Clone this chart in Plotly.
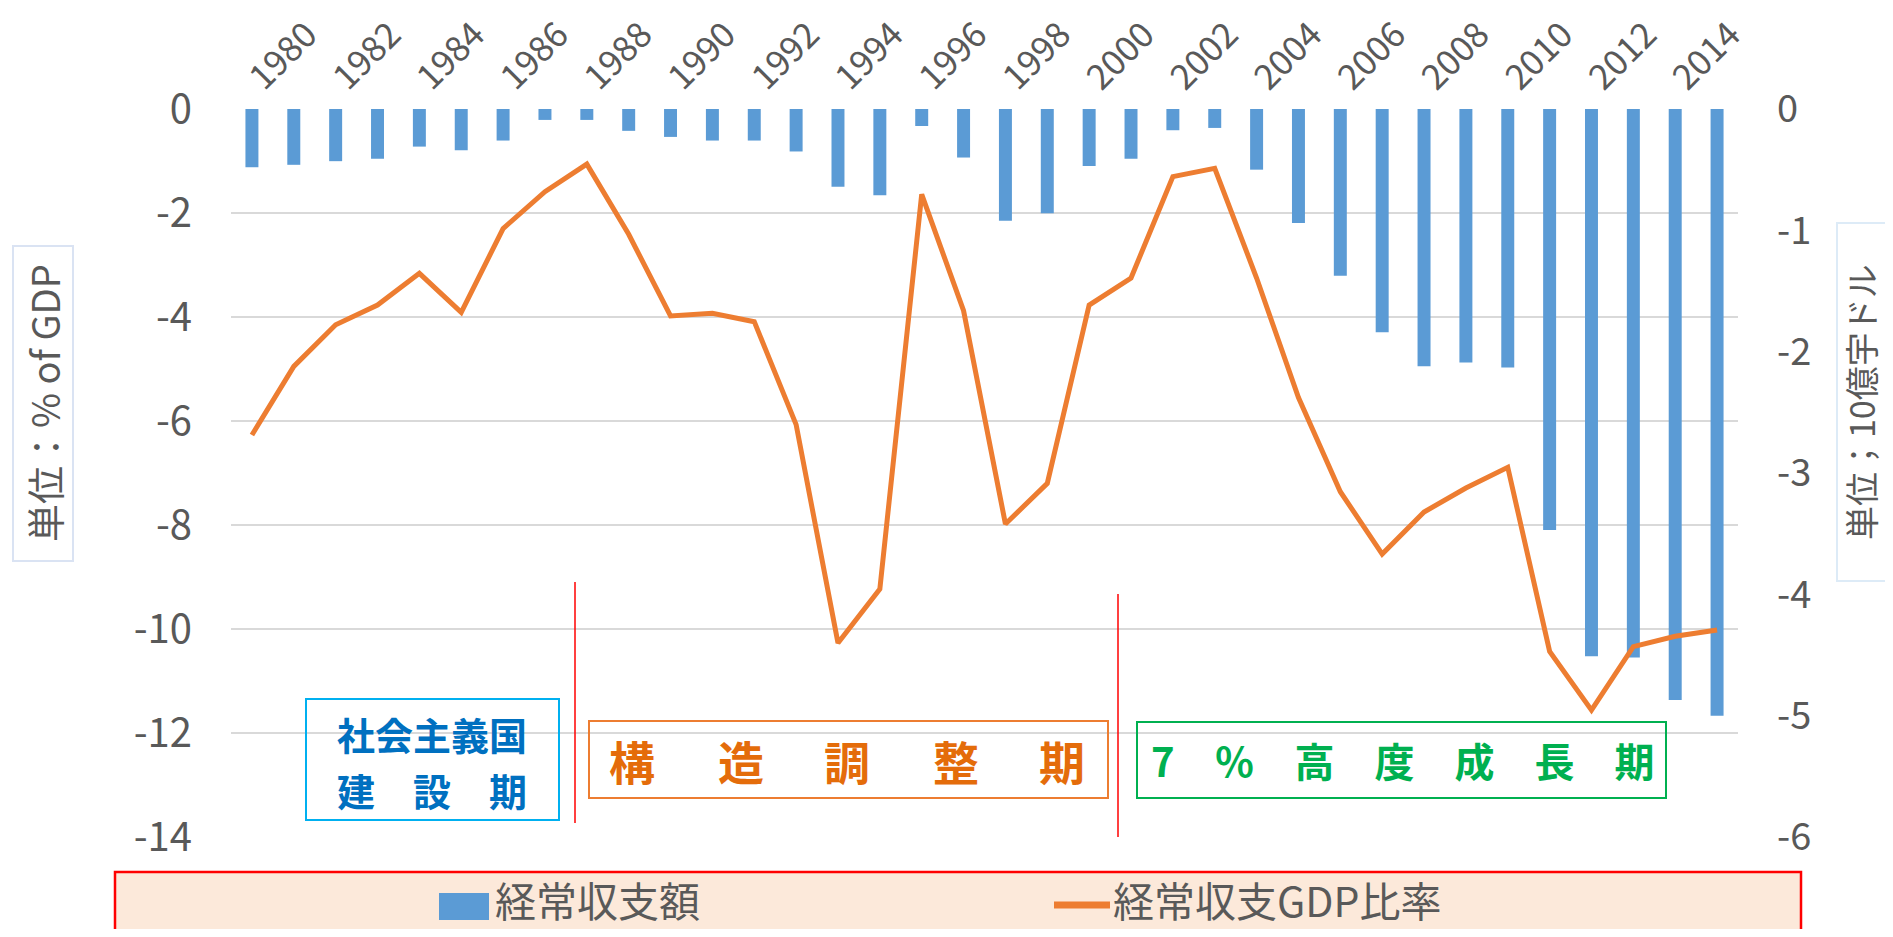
import plotly.graph_objects as go

# ---------------- data ----------------
years = ["1980", "1981", "1982", "1983", "1984", "1985", "1986", "1987", "1988", "1989",
         "1990", "1991", "1992", "1993", "1994", "1995", "1996", "1997", "1998", "1999",
         "2000", "2001", "2002", "2003", "2004", "2005", "2006", "2007", "2008", "2009",
         "2010", "2011", "2012", "2013", "2014", "2015"]
tick_years = ["1980", "1982", "1984", "1986", "1988", "1990", "1992", "1994", "1996",
              "1998", "2000", "2002", "2004", "2006", "2008", "2010", "2012", "2014"]

# current account balance, billion USD (right axis)
balance_bn = [-0.48, -0.46, -0.43, -0.41, -0.31, -0.34, -0.26, -0.09, -0.09, -0.18,
              -0.23, -0.26, -0.26, -0.35, -0.64, -0.71, -0.14, -0.40, -0.92, -0.86,
              -0.47, -0.41, -0.175, -0.156, -0.50, -0.94, -1.375, -1.84, -2.12, -2.09,
              -2.13, -3.47, -4.51, -4.52, -4.87, -5.00]
# current account balance, % of GDP (left axis)
balance_pct = [-6.27, -4.95, -4.15, -3.77, -3.16, -3.91, -2.30, -1.59, -1.06, -2.41,
               -3.98, -3.93, -4.09, -6.07, -10.27, -9.23, -1.64, -3.88, -7.98, -7.20,
               -3.77, -3.25, -1.30, -1.14, -3.25, -5.55, -7.36, -8.56, -7.75, -7.29,
               -6.89, -10.43, -11.56, -10.34, -10.14, -10.02]

left_tick_vals = [0, -2, -4, -6, -8, -10, -12, -14]
left_tick_text = ["0", "-2", "-4", "-6", "-8", "-10", "-12", "-14"]
right_tick_vals = [0, -1, -2, -3, -4, -5, -6]
right_tick_text = ["0", "-1", "-2", "-3", "-4", "-5", "-6"]

bar_name = "経常収支額"
line_name = "経常収支GDP比率"
left_title = "単位：% of GDP"
right_title = "単位；10億宇ドル"
period1_lines = ["社会主義国", "建　設　期"]
period2_chars = ["構", "造", "調", "整", "期"]
period3 = "7　％　高　度　成　長　期"

# ---------------- style ----------------
BLUE = "#5B9BD5"
ORANGE = "#ED7D31"
GREY = "#595959"
GRID = "#D9D9D9"
FONT = "Noto Sans CJK JP"

OFF = 8                      # body margin of the html page
W, H = 1893 - 2 * OFF, 937 - 2 * OFF
# plot area in page pixels
PL, PR, PT, PB = 231, 1738, 109, 837
L, R, T, B = PL - OFF, PR - OFF, PT - OFF, PB - OFF


def px(x):
    """page pixel x -> paper coordinate"""
    return (x - PL) / (PR - PL)


def py(y):
    """page pixel y -> paper coordinate"""
    return (PB - y) / (PB - PT)


fig = go.Figure()
fig.add_trace(go.Bar(x=years, y=balance_bn, name=bar_name, yaxis="y",
                     marker=dict(color=BLUE, line=dict(width=0)), showlegend=False))
fig.add_trace(go.Scatter(x=years, y=balance_pct, name=line_name, yaxis="y2", mode="lines",
                         line=dict(color=ORANGE, width=5), showlegend=False))

shapes = []
annotations = []


def rect(x0, y0, x1, y1, color, width=2, fill=None):
    shapes.append(dict(type="rect", xref="paper", yref="paper",
                       x0=px(x0), x1=px(x1), y0=py(y1), y1=py(y0),
                       line=dict(color=color, width=width),
                       fillcolor=fill if fill else "rgba(0,0,0,0)", layer="above"))


def text(x, y, s, size, color, bold=False, angle=0, xanchor="center"):
    annotations.append(dict(xref="paper", yref="paper", x=px(x), y=py(y), text=s,
                            showarrow=False, xanchor=xanchor, yanchor="middle",
                            textangle=angle, borderpad=0,
                            font=dict(family=FONT, size=size, color=color,
                                      weight="bold" if bold else "normal")))


# vertical red separators
for (x, y0, y1) in [(575, 582, 823), (1118, 594, 837)]:
    shapes.append(dict(type="line", xref="paper", yref="paper", x0=px(x), x1=px(x),
                       y0=py(y1), y1=py(y0), line=dict(color="#FF0000", width=1.5),
                       layer="above"))

# period boxes
rect(306, 699, 559, 820, "#00B0F0", 2)
text(432, 733, period1_lines[0], 38, "#0070C0", bold=True)
text(432, 789, period1_lines[1], 38, "#0070C0", bold=True)

rect(589, 721, 1108, 798, "#ED7D31", 2)
for cx, ch in zip([632, 741, 847, 956, 1062], period2_chars):
    text(cx, 760, ch, 46, "#E46C0A", bold=True)

rect(1137, 722, 1666, 798, "#00B050", 2)
text(1403, 760, period3, 40, "#00B050", bold=True)

# axis title boxes
rect(13, 246, 73, 561, "#DAE3F3", 2)
text(43, 403, left_title, 38, GREY, angle=-90)
rect(1837, 223, 1905, 581, "#DDEBF7", 2)
text(1860, 402, right_title, 34, GREY, angle=-90)

# legend
rect(115, 872, 1801, 950, "#FF0000", 2.5, fill="#FCE9DA")
shapes.append(dict(type="rect", xref="paper", yref="paper", x0=px(439), x1=px(489),
                   y0=py(920), y1=py(893), line=dict(width=0), fillcolor=BLUE, layer="above"))
text(494, 899, bar_name, 41, GREY, xanchor="left")
shapes.append(dict(type="line", xref="paper", yref="paper", x0=px(1054), x1=px(1110),
                   y0=py(905), y1=py(905), line=dict(color=ORANGE, width=7), layer="above"))
text(1112, 899, line_name, 41, GREY, xanchor="left")

fig.update_layout(
    width=W, height=H,
    margin=dict(l=L, r=W - R, t=T, b=H - B, pad=0, autoexpand=False),
    paper_bgcolor="white", plot_bgcolor="white",
    font=dict(family=FONT, color=GREY),
    bargap=0.69,
    showlegend=False,
    xaxis=dict(type="category", side="top", categoryorder="array", categoryarray=years,
               tickmode="array", tickvals=tick_years, ticktext=tick_years,
               tickangle=-45, tickfont=dict(family=FONT, size=35, color=GREY),
               showgrid=False, showline=False, zeroline=False, ticks="",
               ticklabelstandoff=4, automargin=False),
    yaxis=dict(side="right", range=[-6, 0], tickmode="array",
               tickvals=right_tick_vals, ticktext=right_tick_text,
               showgrid=False, zeroline=False, showline=False, ticks="",
               tickfont=dict(family=FONT, size=38, color=GREY),
               ticklabelstandoff=38, automargin=False),
    yaxis2=dict(overlaying="y", side="left", range=[-14, 0], tickmode="array",
                tickvals=left_tick_vals, ticktext=left_tick_text,
                showgrid=True, gridcolor=GRID, gridwidth=2,
                zeroline=False, showline=False, ticks="",
                tickfont=dict(family=FONT, size=40, color=GREY),
                ticklabelstandoff=38, automargin=False),
    shapes=shapes,
    annotations=annotations,
)

fig.write_html("out.html")
